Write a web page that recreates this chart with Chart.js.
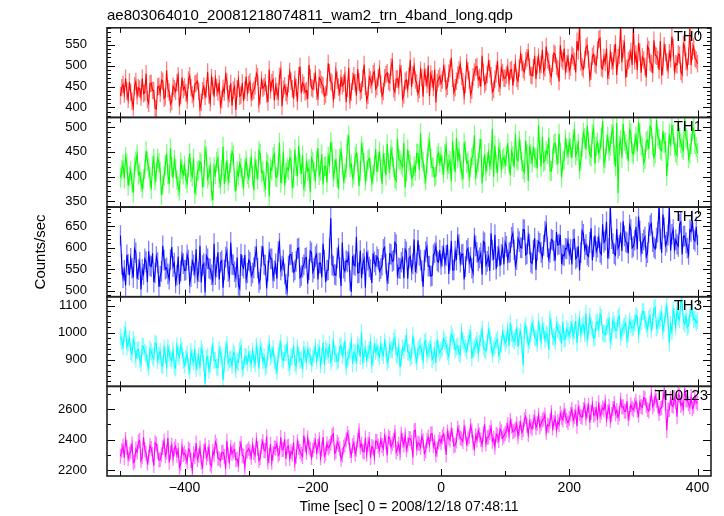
<!DOCTYPE html>
<html>
<head>
<meta charset="utf-8">
<script src="https://cdn.jsdelivr.net/npm/chart.js@4.4.0/dist/chart.umd.min.js"></script>
<style>
html, body { margin: 0; padding: 0; background: #fff; }
#wrap { width: 724px; height: 516px; }
</style>
</head>
<body>
<div id="wrap"><canvas id="chart" width="724" height="516"></canvas></div>
<script>
const title = "ae803064010_20081218074811_wam2_trn_4band_long.qdp";
const xTitle = "Time [sec] 0 = 2008/12/18 07:48:11";
const yTitle = "Counts/sec";
const bands = ["TH0", "TH1", "TH2", "TH3", "TH0123"];
const colors = ["#ff0000", "#00ff00", "#0000ff", "#00ffff", "#ff00ff"];
const errColors = ["rgba(255,0,0,0.5)", "rgba(0,255,0,0.5)", "rgba(0,0,255,0.5)", "rgba(0,255,255,0.5)", "rgba(255,0,255,0.5)"];

// light curve samples: thN on the 4 s grid from -500 s, thNMid 2 s after each of them
const tStart = -500;
const tStep = 4;
const tMid = 2;
const th0 = [
  428,455,470,419,436,401,462,447,425,433,481,410,458,440,396,451,466,422,489,437,414,445,460,403,472,
  449,418,476,431,456,463,398,440,427,485,412,452,469,437,405,446,478,421,458,441,394,467,430,415,474,
  455,423,441,482,409,466,450,432,491,460,417,438,474,403,452,428,486,445,467,414,498,459,437,420,471,
  444,480,425,467,452,431,506,462,419,488,449,470,458,413,495,437,476,428,461,442,503,417,473,455,486,
  450,492,428,471,483,459,510,437,468,495,421,463,444,514,478,466,433,489,426,472,501,480,448,412,469,
  458,497,445,482,519,436,463,490,474,428,507,466,441,485,498,472,524,455,479,493,437,468,512,449,484,
  470,496,488,452,506,463,527,491,512,533,478,495,468,521,503,486,546,509,474,530,498,462,517,541,505,
  488,526,511,559,600,497,515,548,470,523,505,537,566,492,508,475,531,499,552,519,596,540,471,512,534,
  593,528,555,483,514,472,539,505,561,523,490,476,548,509,531,570,487,502,526,479,544,496,588,535,518,
  505
];
const th0Mid = [
  447,432,439,461,415,452,428,444,470,436,419,457,441,398,449,434,463,426,445,408,451,438,476,429,443,
  435,466,447,421,458,439,412,451,444,430,472,426,448,456,419,437,462,433,404,450,445,427,459,441,436,
  461,437,452,474,428,446,459,413,442,467,451,425,489,444,436,457,463,421,448,476,434,453,440,502,447,
  462,439,471,455,427,449,483,458,441,466,435,452,477,446,418,463,459,492,437,470,451,429,466,481,444,
  471,456,438,479,462,497,445,468,452,481,430,466,475,449,499,458,443,472,486,455,427,468,491,460,474,
  466,482,451,493,470,447,478,502,462,455,488,431,473,496,467,450,484,461,509,476,443,481,458,495,470,
  478,462,491,483,470,494,508,485,519,497,476,524,502,489,538,495,514,481,506,527,492,549,511,488,520,
  497,521,484,536,509,492,544,515,487,528,501,563,496,520,541,489,512,530,478,525,508,553,494,517,502,
  512,489,533,521,498,547,508,482,526,515,559,499,531,490,517,543,505,528,486,552,510,523,501,546,514
];
const th1 = [
  398,425,440,381,412,367,431,404,389,395,452,418,374,437,409,428,362,401,446,385,419,434,393,371,415,
  422,386,447,400,365,411,430,378,455,396,420,352,405,438,384,461,409,391,427,443,370,402,417,380,433,
  396,437,372,415,452,408,389,429,360,413,446,398,469,405,382,418,438,376,455,401,426,443,390,411,368,
  430,395,458,412,384,421,441,470,399,436,375,452,392,417,483,425,404,447,381,463,428,410,437,389,422,
  409,451,385,428,466,414,440,396,477,433,419,378,455,424,401,412,446,488,430,392,459,437,418,403,448,
  441,407,462,425,390,433,478,451,412,469,427,398,438,484,416,457,386,445,430,421,497,463,408,449,435,
  425,468,402,441,486,432,455,414,473,391,446,461,437,504,420,429,452,479,411,466,443,487,398,434,458,
  470,438,491,452,415,460,478,503,444,486,426,469,455,512,437,481,462,498,420,366,474,507,466,431,488,
  445,482,510,463,428,471,456,497,439,515,476,452,468,401,487,505,461,443,479,458,518,474,447,492,466,
  448
];
const th1Mid = [
  413,396,427,402,388,419,445,408,376,415,431,399,421,392,437,410,383,424,405,458,397,416,380,429,404,
  395,418,409,437,381,413,426,399,442,404,371,419,430,396,414,385,433,407,450,392,411,427,398,416,405,
  419,402,431,394,446,411,378,425,417,439,400,422,387,451,408,413,434,396,420,462,405,379,428,416,437,
  411,432,403,445,420,388,426,451,414,398,437,423,406,466,419,397,441,428,410,449,391,433,417,404,456,
  430,416,443,402,427,455,419,391,436,425,468,410,432,397,421,447,414,438,405,426,471,419,399,441,428,
  423,446,415,432,471,409,437,426,395,452,431,418,443,402,429,476,420,411,448,434,399,426,457,417,439,
  442,427,451,419,436,473,430,408,445,462,428,439,417,454,481,433,446,412,437,468,425,449,431,475,444,
  458,476,443,467,432,489,455,471,440,497,461,448,479,426,465,452,486,444,509,463,438,472,455,495,449,
  467,451,488,459,436,474,502,463,447,481,455,493,470,441,462,485,449,511,468,453,479,437,466,498,460
];
const th2 = [
  628,530,512,561,575,531,588,549,503,538,567,592,556,520,579,509,545,571,553,527,601,564,536,515,582,
  547,583,518,569,541,529,604,558,496,574,550,522,537,589,566,507,578,545,612,560,531,513,585,552,526,
  571,534,553,596,519,580,561,505,589,574,546,528,610,557,539,501,583,566,548,597,530,554,575,516,592,
  543,579,526,564,609,520,548,668,557,536,598,511,552,570,583,497,561,625,542,529,574,590,555,518,567,
  579,545,559,601,523,586,568,612,537,551,575,596,528,580,562,543,617,571,509,590,557,534,583,604,566,
  561,598,582,539,615,548,571,607,584,526,593,565,552,622,589,576,537,611,568,546,594,630,579,557,600,
  612,571,590,633,558,621,600,642,583,627,566,595,548,614,589,605,651,574,619,592,636,608,562,581,597,
  585,561,620,578,547,639,596,583,612,570,628,601,589,654,617,575,698,609,582,598,635,661,614,587,642,
  603,648,672,590,618,579,635,656,601,622,700,588,646,613,696,631,597,608,654,584,627,599,641,662,615,
  606
];
const th2Mid = [
  561,547,583,536,552,597,528,566,549,574,520,558,587,541,565,533,604,550,539,572,556,518,579,546,563,
  548,571,533,560,596,544,519,563,581,552,537,609,555,526,570,548,591,532,561,544,577,505,558,583,541,
  566,541,579,552,527,603,559,546,574,530,562,591,548,571,515,557,584,543,568,599,535,560,577,549,588,
  552,585,564,531,571,547,598,560,538,576,553,612,545,567,524,581,558,541,593,563,507,570,549,586,559,
  573,551,596,562,540,584,571,607,553,566,529,590,575,548,619,564,582,546,571,601,557,535,588,569,594,
  580,563,607,571,548,592,623,566,585,556,598,577,541,604,569,587,614,560,579,633,572,550,596,584,561,
  603,588,624,595,572,614,599,641,586,608,563,622,594,610,578,637,601,589,617,570,606,629,583,598,615,
  596,618,574,603,589,631,607,579,645,602,591,623,584,612,660,598,621,586,643,605,592,627,611,652,599,
  617,596,638,609,625,588,651,614,597,636,620,677,605,629,593,642,618,603,659,626,611,584,637,620,648
];
const th3 = [
  985,948,1012,962,931,975,903,938,886,949,921,872,930,904,958,917,881,943,868,925,897,876,952,911,936,
  880,922,858,906,941,893,869,927,812,912,884,953,899,871,920,825,937,888,904,929,863,891,948,874,910,
  923,886,902,951,868,934,912,879,960,918,895,857,940,903,925,956,871,909,887,944,898,864,921,937,913,
  905,948,927,881,963,939,916,892,975,921,899,952,934,874,910,968,928,887,946,1002,919,903,937,882,955,
  947,910,928,968,891,955,936,982,915,873,944,961,929,906,990,917,938,952,897,971,933,958,914,889,941,
  936,978,953,912,995,969,947,925,1004,958,931,984,905,944,973,961,1013,939,966,988,920,952,976,930,1001,
  962,1012,1036,977,983,948,1005,880,1026,955,994,1018,979,1043,968,1009,997,936,1022,986,1031,1003,960,975,1015,
  990,1034,1008,962,1051,1023,997,978,1060,1012,985,1040,1068,1001,993,1027,969,1046,1010,1055,983,1018,1037,994,1029,
  1021,1064,993,1040,1078,1030,1052,1011,1089,1017,1044,1071,1035,1098,962,1003,1059,1082,1048,1111,1032,1019,1065,1074,1050,
  1045
];
const th3Mid = [
  968,994,947,979,921,958,935,902,951,927,889,940,913,962,898,931,877,919,946,905,934,869,923,952,898,
  907,876,931,893,868,915,942,887,904,861,926,898,873,939,910,884,958,901,879,921,895,936,866,913,889,
  902,931,884,918,948,895,871,926,909,942,880,915,963,898,927,889,911,952,876,920,903,939,894,918,885,
  921,897,944,913,880,931,958,905,922,893,949,916,971,903,937,884,925,955,912,896,941,923,966,908,930,
  925,957,916,943,902,938,970,921,949,908,934,985,927,914,952,893,946,929,964,918,941,901,937,975,926,
  944,967,929,958,985,936,951,919,972,943,962,998,937,955,924,979,948,932,1009,956,941,969,917,958,983,
  974,951,998,968,1021,986,957,1009,992,970,1034,983,961,1002,1028,975,990,1051,984,967,1012,996,1040,979,1006,
  1011,987,1043,1019,996,1030,1072,1005,1024,979,1038,1014,1056,998,1021,1047,986,1033,1009,1062,1001,1026,975,1044,1016,
  1035,1058,1024,1079,1047,1013,1062,1039,1094,1028,1051,1006,1069,1043,1031,1085,1022,1057,1116,1040,1063,1027,1088,1049,1036
];
const th0123 = [
  2290,2358,2401,2275,2322,2248,2337,2386,2263,2415,2310,2284,2343,2229,2370,2266,2302,2392,2318,2251,2364,2339,2297,2218,2355,
  2312,2254,2331,2198,2287,2270,2346,2221,2363,2305,2240,2322,2385,2279,2262,2317,2209,2298,2351,2325,2268,2236,2376,2291,2318,
  2341,2284,2315,2398,2262,2357,2329,2420,2296,2251,2348,2373,2311,2334,2403,2352,2278,2306,2241,2387,2322,2289,2365,2412,2336,
  2331,2392,2356,2280,2417,2309,2345,2376,2438,2322,2368,2271,2350,2397,2414,2295,2381,2337,2459,2372,2319,2304,2401,2355,2286,
  2388,2331,2362,2425,2297,2409,2374,2448,2341,2312,2396,2431,2367,2405,2283,2463,2379,2350,2392,2326,2417,2437,2358,2301,2384,
  2380,2437,2299,2412,2466,2358,2391,2449,2405,2484,2372,2420,2458,2343,2397,2431,2366,2502,2415,2447,2389,2352,2426,2471,2410,
  2441,2498,2527,2452,2470,2419,2511,2466,2553,2434,2487,2519,2478,2562,2505,2536,2448,2491,2580,2513,2463,2499,2545,2594,2528,
  2539,2601,2552,2488,2574,2546,2627,2590,2512,2636,2568,2531,2557,2610,2649,2583,2524,2605,2571,2548,2662,2617,2586,2539,2631,
  2596,2653,2560,2618,2677,2624,2589,2701,2633,2658,2572,2611,2720,2460,2598,2627,2676,2551,2689,2640,2735,2662,2615,2604,2681,
  2640
];
const th0123Mid = [
  2327,2281,2349,2306,2372,2259,2318,2395,2287,2334,2246,2361,2301,2380,2322,2269,2348,2294,2411,2315,2278,2356,2331,2243,2302,
  2286,2339,2263,2307,2378,2295,2252,2324,2281,2349,2226,2302,2361,2274,2316,2290,2392,2257,2309,2335,2271,2344,2298,2219,2326,
  2319,2365,2296,2342,2281,2388,2327,2253,2371,2310,2344,2297,2415,2336,2274,2359,2322,2381,2290,2346,2305,2428,2317,2351,2282,
  2362,2318,2401,2339,2293,2374,2356,2427,2310,2385,2341,2298,2366,2441,2329,2360,2304,2397,2351,2323,2412,2370,2281,2345,2390,
  2357,2401,2340,2383,2419,2352,2396,2318,2371,2437,2363,2334,2409,2381,2457,2345,2374,2422,2309,2393,2366,2440,2384,2337,2402,
  2419,2386,2451,2397,2430,2365,2476,2412,2388,2443,2405,2492,2381,2426,2460,2399,2437,2373,2418,2481,2409,2436,2394,2453,2425,
  2462,2431,2489,2458,2504,2475,2446,2532,2494,2518,2471,2549,2506,2485,2529,2563,2497,2522,2476,2541,2518,2572,2530,2556,2511,
  2568,2527,2585,2611,2553,2598,2542,2625,2579,2561,2604,2644,2582,2597,2536,2619,2566,2639,2592,2571,2615,2588,2653,2574,2606,
  2628,2594,2645,2613,2669,2598,2641,2616,2687,2622,2605,2663,2639,2594,2672,2618,2650,2697,2625,2608,2659,2636,2684,2620,2647
];
const series = [th0, th1, th2, th3, th0123];
const seriesMid = [th0Mid, th1Mid, th2Mid, th3Mid, th0123Mid];
const errors = [21, 20, 24, 31, 49];

// axis ranges, labelled ticks and minor tick spacing per panel
const xMin = -521, xMax = 421;
const xMajor = 200, xMinor = 100;
const yMins = [376, 338, 486, 802, 2161];
const yMaxs = [591, 520, 694, 1133, 2751];
const yTickValues = [
	[400, 450, 500, 550],
	[350, 400, 450, 500],
	[500, 550, 600, 650],
	[900, 1000, 1100],
	[2200, 2400, 2600]
];
const yMajor = [50, 50, 50, 100, 200];
const yMinor = [10, 10, 10, 20, 100];
const labelRight = [9, 9, 9, 9, 3];

function minusSign(v){
	return v < 0 ? "\u2212" + (-v) : "" + v;
}

let scales = {
	x: {
		type: "linear", position: "bottom", min: xMin, max: xMax,
		grid: {display: false, drawTicks: false}, border: {display: false},
		ticks: {stepSize: xMajor, includeBounds: false, padding: 4, maxRotation: 0,
			font: {size: 14}, callback: minusSign},
		title: {display: true, text: xTitle, font: {size: 14}, padding: {top: 0, bottom: 0}},
		afterFit: function(s){ s.height = 40; }
	}
};
let datasets = [];
for(let i = 0; i < bands.length; i++){
	scales["y" + i] = {
		type: "linear", position: "left", stack: "panels", stackWeight: 1, weight: bands.length - i,
		min: yMins[i], max: yMaxs[i],
		grid: {display: false, drawTicks: false}, border: {display: false},
		ticks: {autoSkip: false, padding: 20, font: {size: 13},
			callback: function(v){ return "" + v; }},
		afterBuildTicks: function(s){
			s.ticks = yTickValues[i].map(v => ({value: v}));
		},
		title: {display: i == 2, text: yTitle, font: {size: 15}, padding: {top: 32, bottom: 0}},
		afterFit: function(s){ s.width = 107; }
	};
	let pts = [];
	for(let j = 0; j < series[i].length; j++){
		pts.push({x: tStart + j * tStep, y: series[i][j]});
		if(j < seriesMid[i].length){
			pts.push({x: tStart + j * tStep + tMid, y: seriesMid[i][j]});
		}
	}
	datasets.push({
		label: bands[i],
		data: pts,
		yAxisID: "y" + i,
		borderColor: colors[i],
		borderWidth: 1.1,
		pointRadius: 0,
		tension: 0,
		fill: false
	});
}

const qdpPanels = {
	id: "qdpPanels",
	beforeDatasetDraw(chart, args){
		let ctx = chart.ctx;
		let ca = chart.chartArea;
		let i = args.index;
		let xs = chart.scales.x;
		let ys = chart.scales["y" + i];
		ctx.save();
		ctx.beginPath();
		ctx.rect(ca.left, ys.top, ca.right - ca.left, ys.bottom - ys.top);
		ctx.clip();
		// error bars under the line
		ctx.strokeStyle = errColors[i];
		ctx.lineWidth = 1.3;
		ctx.beginPath();
		for(const p of chart.data.datasets[i].data){
			let px = xs.getPixelForValue(p.x);
			ctx.moveTo(px, ys.getPixelForValue(p.y - errors[i]));
			ctx.lineTo(px, ys.getPixelForValue(p.y + errors[i]));
		}
		ctx.stroke();
	},
	afterDatasetDraw(chart){
		chart.ctx.restore();
	},
	afterDraw(chart){
		let ctx = chart.ctx;
		let ca = chart.chartArea;
		let xs = chart.scales.x;
		ctx.save();
		for(let i = 0; i < bands.length; i++){
			let ys = chart.scales["y" + i];
			let top = ys.top, bottom = ys.bottom;
			ctx.strokeStyle = "#000";
			ctx.lineWidth = 1;
			ctx.beginPath();
			for(let v = Math.ceil(yMins[i] / yMinor[i]) * yMinor[i]; v <= yMaxs[i]; v += yMinor[i]){
				let py = Math.round(ys.getPixelForValue(v)) + 0.5;
				let len = v % yMajor[i] == 0 ? 8 : 4;
				ctx.moveTo(ca.left, py); ctx.lineTo(ca.left + len, py);
				ctx.moveTo(ca.right, py); ctx.lineTo(ca.right - len, py);
			}
			for(let t = -500; t <= 400; t += xMinor){
				let px = Math.round(xs.getPixelForValue(t)) + 0.5;
				let len = t % xMajor == 0 ? 7 : 5;
				ctx.moveTo(px, top); ctx.lineTo(px, top + len);
				ctx.moveTo(px, bottom); ctx.lineTo(px, bottom - len);
			}
			ctx.stroke();
			ctx.strokeStyle = "#222";
			ctx.lineWidth = 1.6;
			ctx.strokeRect(ca.left, top, ca.right - ca.left, bottom - top);
			ctx.fillStyle = "#000";
			ctx.font = "15px 'Liberation Sans', Arial, sans-serif";
			ctx.textAlign = "right";
			ctx.textBaseline = "top";
			ctx.fillText(bands[i], ca.right - labelRight[i], top + 2);
		}
		ctx.restore();
	}
};

Chart.defaults.color = "#000";
Chart.defaults.font.family = "'Liberation Sans', Arial, sans-serif";

let ctx = document.getElementById("chart").getContext("2d");
let chart = new Chart(ctx, {
	type: "line",
	data: {datasets: datasets},
	options: {
		responsive: false,
		animation: false,
		devicePixelRatio: 1,
		layout: {padding: {top: 0, right: 13, bottom: 0, left: 0}},
		plugins: {
			legend: {display: false},
			tooltip: {enabled: false},
			title: {display: true, text: title, align: "start", fullSize: false,
				font: {size: 15, weight: "normal"}, padding: {top: 6, bottom: 3}}
		},
		scales: scales
	},
	plugins: [qdpPanels]
});
</script>
</body>
</html>
